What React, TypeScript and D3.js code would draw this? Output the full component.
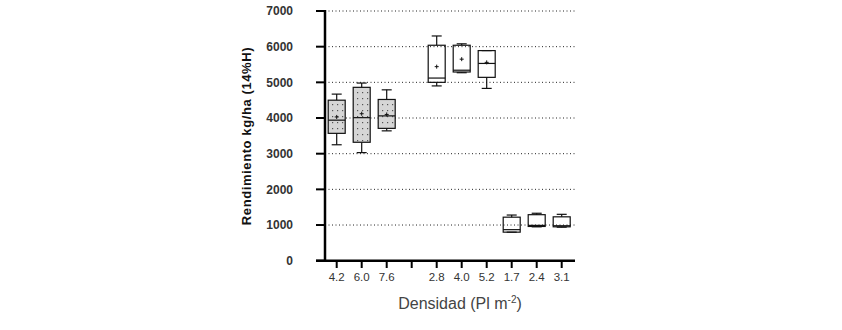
import React from "react";
import * as d3 from "d3";

const categories = ["4.2", "6.0", "7.6", "", "2.8", "4.0", "5.2", "1.7", "2.4", "3.1"];
const whiskerLow = [3250, 3030, 3640, null, 4900, 5270, 4830, 800, 950, 940];
const q1 = [3570, 3320, 3710, null, 5000, 5290, 5140, 800, 960, 950];
const median = [3940, 4010, 4060, null, 5120, 5340, 5530, 870, 990, 980];
const q3 = [4500, 4860, 4520, null, 6040, 6040, 5890, 1220, 1290, 1230];
const whiskerHigh = [4670, 4980, 4790, null, 6300, 6080, 5890, 1280, 1330, 1300];
const means = [4030, 4120, 4100, null, 5440, 5650, 5560, null, null, null];
const shaded = [true, true, true, false, false, false, false, false, false, false];
const yTicks = [0, 1000, 2000, 3000, 4000, 5000, 6000, 7000];
const gridValues = [1000, 2000, 3000, 4000, 5000, 6000, 7000];

export default function App() {
  const W = 842, H = 330;
  const y = d3.scaleLinear().domain([0, 7000]).range([260.7, 11]);
  const x = d3.scaleBand<number>().domain(d3.range(categories.length)).range([324.2, 574.2]).padding(0);
  const bw = 17;
  const cx = (i: number) => (x(i) as number) + x.bandwidth() / 2;
  const font = "Arial, 'Liberation Sans', sans-serif";

  return (
    <svg width={W} height={H} style={{ position: "absolute", left: 0, top: 0 }} fontFamily={font}>
      <defs>
        <pattern id="dots" width="5" height="6" patternUnits="userSpaceOnUse">
          <rect width="5" height="6" fill="#d6d6d6" />
          <rect x="2" y="2" width="1.2" height="1.2" fill="#555" />
        </pattern>
      </defs>
      <rect width={W} height={H} fill="#fff" />
      {gridValues.map((v) => (
        <line key={v} x1={325} x2={575} y1={y(v)} y2={y(v)} stroke="#222" strokeWidth={1} strokeDasharray="1,2.5" />
      ))}
      {categories.map((c, i) => {
        if (q1[i] == null) return null;
        const xc = cx(i);
        const x0 = xc - bw / 2;
        return (
          <g key={i} stroke="#111" strokeWidth={1.2} fill="none">
            <line x1={xc} x2={xc} y1={y(whiskerHigh[i] as number)} y2={y(q3[i] as number)} />
            <line x1={xc} x2={xc} y1={y(q1[i] as number)} y2={y(whiskerLow[i] as number)} />
            <line x1={xc - 5} x2={xc + 5} y1={y(whiskerHigh[i] as number)} y2={y(whiskerHigh[i] as number)} />
            <line x1={xc - 5} x2={xc + 5} y1={y(whiskerLow[i] as number)} y2={y(whiskerLow[i] as number)} />
            <rect
              x={x0}
              y={y(q3[i] as number)}
              width={bw}
              height={y(q1[i] as number) - y(q3[i] as number)}
              fill={shaded[i] ? "url(#dots)" : "none"}
            />
            <line x1={x0} x2={x0 + bw} y1={y(median[i] as number)} y2={y(median[i] as number)} />
            {means[i] != null && (
              <g strokeWidth={1}>
                <line x1={xc - 2} x2={xc + 2} y1={y(means[i] as number)} y2={y(means[i] as number)} />
                <line x1={xc} x2={xc} y1={y(means[i] as number) - 2} y2={y(means[i] as number) + 2} />
              </g>
            )}
          </g>
        );
      })}
      {/* axes */}
      <line x1={325} x2={325} y1={10} y2={261.5} stroke="#000" strokeWidth={2.5} />
      <line x1={316} x2={575} y1={260.7} y2={260.7} stroke="#000" strokeWidth={2.5} />
      {yTicks.map((v) => (
        <g key={v}>
          <line x1={316} x2={325} y1={y(v)} y2={y(v)} stroke="#000" strokeWidth={2} />
          <text x={293} y={y(v)} dy="0.35em" textAnchor="end" fontSize={12} fontWeight="bold" fill="#333">
            {v}
          </text>
        </g>
      ))}
      {categories.map((c, i) => (
        <g key={"t" + i}>
          <line x1={cx(i)} x2={cx(i)} y1={260.7} y2={268} stroke="#000" strokeWidth={2} />
          <text x={cx(i)} y={277} dy="0.35em" textAnchor="middle" fontSize={11.5} fill="#333">
            {c}
          </text>
        </g>
      ))}
      <text
        transform={`translate(246,136) rotate(-90)`}
        textAnchor="middle"
        dy="0.35em"
        fontSize={13}
        fontWeight="bold"
        letterSpacing={0.6}
        fill="#111"
      >
        Rendimiento kg/ha (14%H)
      </text>
      <text x={460} y={303} dy="0.35em" textAnchor="middle" fontSize={16} fill="#444">
        Densidad (Pl m<tspan dy="-6" fontSize={10}>-2</tspan><tspan dy="6">)</tspan>
      </text>
    </svg>
  );
}
